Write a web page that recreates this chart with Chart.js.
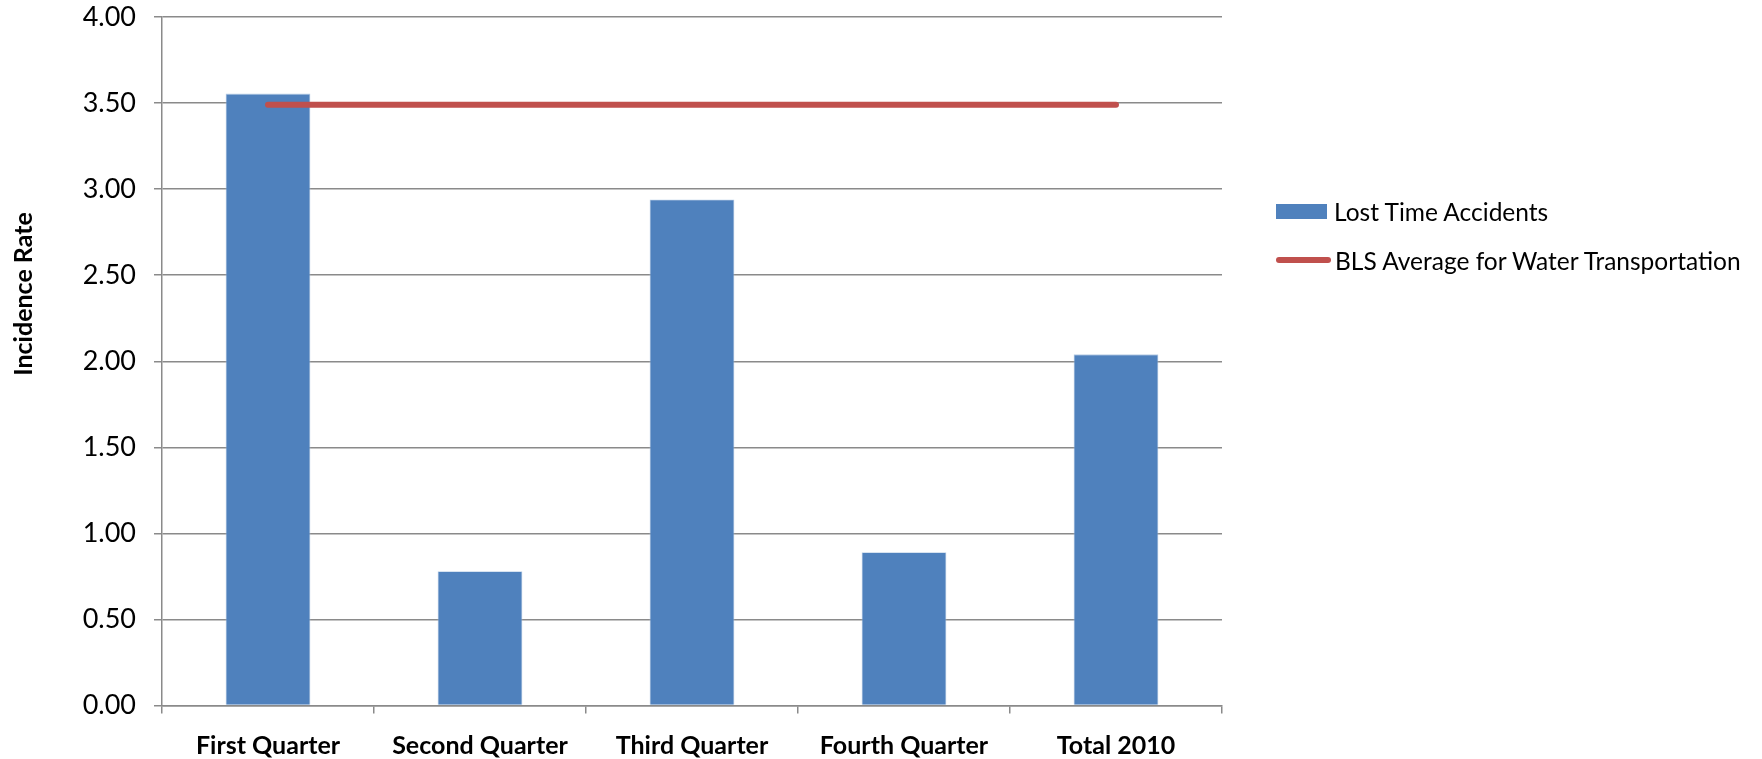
<!DOCTYPE html>
<html>
<head>
<meta charset="utf-8">
<script src="https://cdn.jsdelivr.net/npm/chart.js@4.4.1/dist/chart.umd.min.js"></script>
<style>
  html, body { margin: 0; padding: 0; background: #fff; }
  #wrap { position: relative; width: 1762px; height: 759px; }
  #c { position: absolute; left: 0; top: 0; }
  .leg { position: absolute; left: 1276px; height: 30px; font-family: Lato, sans-serif; font-size: 24.5px; color: #000; white-space: nowrap; display: flex; align-items: center; }
  .sw-bar { width: 51px; height: 15px; background: #4F81BD; margin-right: 7px; flex: none; }
  .sw-line { width: 55px; height: 6px; background: #C0504D; border-radius: 3px; margin-right: 4px; flex: none; }
</style>
</head>
<body>
<div id="wrap">
  <canvas id="c" width="1762" height="759"></canvas>
  <div class="leg" id="leg1" style="top:196px;"><span class="sw-bar"></span><span id="t1"></span></div>
  <div class="leg" id="leg2" style="top:245px;"><span class="sw-line"></span><span id="t2"></span></div>
</div>
<script>
const categories = ["First Quarter", "Second Quarter", "Third Quarter", "Fourth Quarter", "Total 2010"];
const lostTimeAccidents = [3.555, 0.78, 2.94, 0.89, 2.04];
const blsAverage = [3.49, 3.49, 3.49, 3.49, 3.49];
const seriesNames = ["Lost Time Accidents", "BLS Average for Water Transportation"];
const yAxisTitle = "Incidence Rate";

document.getElementById('t1').textContent = seriesNames[0];
document.getElementById('t2').textContent = seriesNames[1];

const GRID = '#8a8a8a';
const FONT = 'Lato';

const yTitlePlugin = {
  id: 'yTitle',
  afterDraw(chart) {
    const ctx = chart.ctx;
    ctx.save();
    ctx.translate(24, 294);
    ctx.rotate(-Math.PI / 2);
    ctx.font = 'bold 25px ' + FONT;
    ctx.fillStyle = '#000';
    ctx.textAlign = 'center';
    ctx.textBaseline = 'middle';
    ctx.fillText(yAxisTitle, 0, 0);
    ctx.restore();
  }
};

const bgPlugin = {
  id: 'bg',
  beforeDraw(chart) {
    const ctx = chart.ctx;
    ctx.save();
    ctx.fillStyle = '#fff';
    ctx.fillRect(0, 0, chart.width, chart.height);
    ctx.restore();
  }
};

new Chart(document.getElementById('c'), {
  data: {
    labels: categories,
    datasets: [
      {
        type: 'line',
        label: seriesNames[1],
        data: blsAverage,
        borderColor: '#C0504D',
        borderWidth: 6,
        borderCapStyle: 'round',
        pointRadius: 0,
        fill: false,
        order: 0
      },
      {
        type: 'bar',
        label: seriesNames[0],
        data: lostTimeAccidents,
        backgroundColor: '#4F81BD',
        borderColor: '#b9cde5',
        borderWidth: 0.8,
        categoryPercentage: 1.0,
        barPercentage: 0.4,
        order: 1
      }
    ]
  },
  options: {
    responsive: false,
    animation: false,
    devicePixelRatio: 1,
    layout: { padding: { top: 17, right: 540, left: 0, bottom: 0 } },
    plugins: {
      legend: { display: false },
      tooltip: { enabled: false }
    },
    scales: {
      x: {
        offset: true,
        grid: { display: true, drawOnChartArea: false, drawTicks: true, tickLength: 8, color: GRID, lineWidth: 1.5, offset: true },
        border: { display: true, color: GRID, width: 1.5 },
        ticks: { color: '#000', font: { family: FONT, size: 25, weight: 'bold' }, padding: 17, maxRotation: 0 },
        afterFit(scale) { scale.height = 53.5; scale.paddingLeft = 0; scale.paddingRight = 0; }
      },
      y: {
        min: 0, max: 4,
        ticks: { stepSize: 0.5, color: '#000', font: { family: FONT, size: 27 }, padding: 18,
                 callback: v => Number(v).toFixed(2) },
        grid: { color: GRID, lineWidth: 1.5, drawTicks: true, tickLength: 8 },
        border: { display: true, color: GRID, width: 1.5 },
        afterFit(scale) { scale.width = 162; scale.paddingTop = 0; scale.paddingBottom = 0; }
      }
    }
  },
  plugins: [bgPlugin, yTitlePlugin]
});
</script>
</body>
</html>
